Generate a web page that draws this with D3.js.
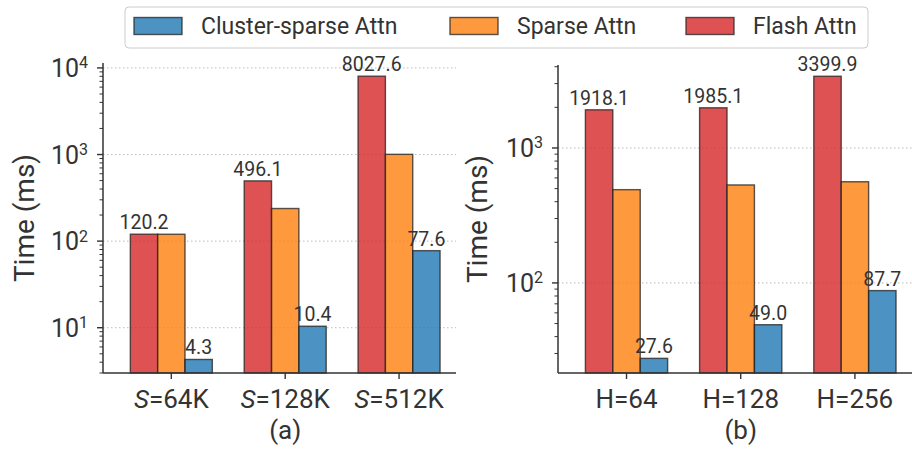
<!DOCTYPE html>
<html>
<head>
<meta charset="utf-8">
<script src="https://cdn.jsdelivr.net/npm/d3@7"></script>
<style>
  body { margin: 0; background: #fff; }
  svg text { font-family: Roboto, "Noto Sans", sans-serif; fill: #333; }
</style>
</head>
<body>
<div id="chart-container"></div>
<script>
/**************************************************
 * Data
 **************************************************/

// series, drawn left to right inside each group
const seriesNames = ["Flash Attn", "Sparse Attn", "Cluster-sparse Attn"];
const legendOrder = ["Cluster-sparse Attn", "Sparse Attn", "Flash Attn"];

// panel (a): sequence length
const seqLabels = ["64K", "128K", "512K"];
const flashSeq = [120.2, 496.1, 8027.6];
const sparseSeq = [120.0, 238, 1005];
const clusterSeq = [4.3, 10.4, 77.6];

// panel (b): number of heads
const headLabels = ["H=64", "H=128", "H=256"];
const flashHead = [1918.1, 1985.1, 3399.9];
const sparseHead = [491, 532, 562];
const clusterHead = [27.6, 49.0, 87.7];

const colors = {
  "Flash Attn": "#d62728",
  "Sparse Attn": "#ff7f0e",
  "Cluster-sparse Attn": "#1f77b4"
};

/**************************************************
 * Rendering
 **************************************************/

const W = 912, H = 449;
const svg = d3.select("#chart-container")
  .append("svg")
  .attr("width", W)
  .attr("height", H);

const barW = 0.24;

function drawPanel(opts) {
  const { left, right, top, bottom, yDomain, majors, cats, series, italicS, caption, labelX } = opts;

  const x = d3.scaleLinear().domain([-0.6, 2.5]).range([left, right]);
  const y = d3.scaleLog().domain(yDomain).range([bottom, top]);
  const g = svg.append("g");

  // dotted grid at decades
  g.selectAll("line.grid")
    .data(majors)
    .enter().append("line")
    .attr("x1", left).attr("x2", right)
    .attr("y1", d => y(d)).attr("y2", d => y(d))
    .attr("stroke", "#bbb")
    .attr("stroke-width", 1)
    .attr("stroke-dasharray", "1.5,2.5");

  // bars
  const rows = [];
  series.forEach((vals, si) => {
    vals.forEach((v, ci) => rows.push({ s: seriesNames[si], si, ci, v }));
  });

  g.selectAll("rect.bar")
    .data(rows)
    .enter().append("rect")
    .attr("x", d => x(d.ci + (d.si - 1) * barW - barW / 2))
    .attr("width", x(barW) - x(0))
    .attr("y", d => y(d.v))
    .attr("height", d => bottom - y(d.v))
    .attr("fill", d => colors[d.s])
    .attr("fill-opacity", 0.8)
    .attr("stroke", "#222")
    .attr("stroke-opacity", 0.75)
    .attr("stroke-width", 1.4);

  // value labels for flash and cluster bars only
  g.selectAll("text.val")
    .data(rows.filter(d => d.s !== "Sparse Attn"))
    .enter().append("text")
    .attr("x", d => x(d.ci + (d.si - 1) * barW))
    .attr("y", d => y(d.v) - 5)
    .attr("text-anchor", "middle")
    .attr("font-size", "19.5px")
    .text(d => d.v.toFixed(1));

  // y axis: spine, major + minor ticks
  g.append("line")
    .attr("x1", left).attr("x2", left)
    .attr("y1", top).attr("y2", bottom)
    .attr("stroke", "#333").attr("stroke-width", 1.5);

  const [lo, hi] = yDomain;
  const minors = [];
  for (let k = Math.floor(Math.log10(lo)); k <= Math.ceil(Math.log10(hi)); k++) {
    for (let m = 2; m <= 9; m++) {
      const v = m * Math.pow(10, k);
      if (v >= lo && v <= hi) minors.push(v);
    }
  }
  g.selectAll("line.minor")
    .data(minors)
    .enter().append("line")
    .attr("x1", left - 3.5).attr("x2", left)
    .attr("y1", d => y(d)).attr("y2", d => y(d))
    .attr("stroke", "#333").attr("stroke-width", 1);

  g.selectAll("line.major")
    .data(majors)
    .enter().append("line")
    .attr("x1", left - 6).attr("x2", left)
    .attr("y1", d => y(d)).attr("y2", d => y(d))
    .attr("stroke", "#333").attr("stroke-width", 1.4);

  const yl = g.selectAll("text.ytick")
    .data(majors)
    .enter().append("text")
    .attr("x", left - 15)
    .attr("y", d => y(d) + 9)
    .attr("text-anchor", "end")
    .attr("font-size", "25px");
  yl.append("tspan").text("10");
  yl.append("tspan")
    .attr("dy", "-8.5")
    .attr("font-size", "16px")
    .text(d => Math.round(Math.log10(d)));

  g.append("text")
    .attr("transform", `translate(${labelX},${(top + bottom) / 2}) rotate(-90)`)
    .attr("text-anchor", "middle")
    .attr("font-size", "28px")
    .text("Time (ms)");

  // x axis
  g.append("line")
    .attr("x1", left).attr("x2", right)
    .attr("y1", bottom).attr("y2", bottom)
    .attr("stroke", "#333").attr("stroke-width", 1.5);

  g.selectAll("line.xtick")
    .data(cats)
    .enter().append("line")
    .attr("x1", (d, i) => x(i)).attr("x2", (d, i) => x(i))
    .attr("y1", bottom).attr("y2", bottom + 6)
    .attr("stroke", "#333").attr("stroke-width", 1.4);

  const xl = g.selectAll("text.xtick")
    .data(cats)
    .enter().append("text")
    .attr("x", (d, i) => x(i))
    .attr("y", bottom + 35)
    .attr("text-anchor", "middle")
    .attr("font-size", "26px");
  if (italicS) {
    xl.append("tspan").attr("font-style", "italic").text("S");
    xl.append("tspan").text(d => "=" + d);
  } else {
    xl.text(d => d);
  }

  g.append("text")
    .attr("x", x(1))
    .attr("y", bottom + 66)
    .attr("text-anchor", "middle")
    .attr("font-size", "26px")
    .text(caption);
}

drawPanel({
  left: 103, right: 456, top: 63, bottom: 373,
  yDomain: [3, 11400],
  majors: [10, 100, 1000, 10000],
  cats: seqLabels,
  series: [flashSeq, sparseSeq, clusterSeq],
  italicS: true,
  caption: "(a)",
  labelX: 34
});

drawPanel({
  left: 558, right: 912, top: 65, bottom: 373,
  yDomain: [21.5, 4120],
  majors: [100, 1000],
  cats: headLabels,
  series: [flashHead, sparseHead, clusterHead],
  italicS: false,
  caption: "(b)",
  labelX: 487
});

/**************************************************
 * Legend
 **************************************************/

const legend = svg.append("g");
legend.append("rect")
  .attr("x", 125).attr("y", 7)
  .attr("width", 743).attr("height", 41)
  .attr("rx", 4)
  .attr("fill", "#fff")
  .attr("stroke", "#ccc")
  .attr("stroke-width", 1);

const itemX = [134, 450, 686];
const items = legend.selectAll("g.item")
  .data(legendOrder)
  .enter().append("g")
  .attr("transform", (d, i) => `translate(${itemX[i]},0)`);

items.append("rect")
  .attr("x", 0).attr("y", 17.5)
  .attr("width", 48).attr("height", 17)
  .attr("fill", d => colors[d])
  .attr("fill-opacity", 0.8)
  .attr("stroke", "#222")
  .attr("stroke-opacity", 0.75)
  .attr("stroke-width", 1.4);

items.append("text")
  .attr("x", 67)
  .attr("y", 34)
  .attr("font-size", "23px")
  .text(d => d);
</script>
</body>
</html>
